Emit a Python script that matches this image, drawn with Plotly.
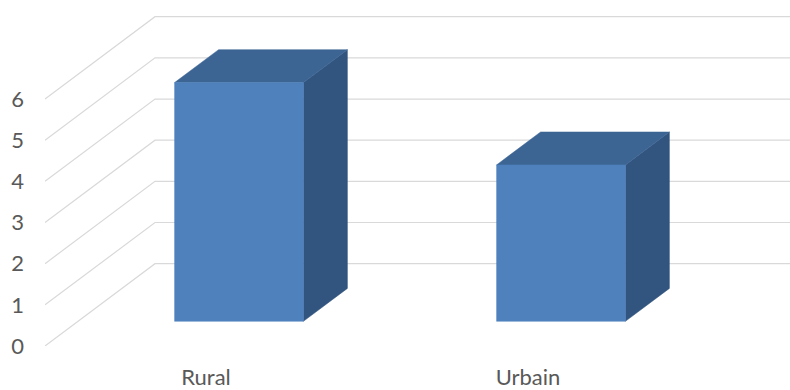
import plotly.graph_objects as go

# Data
categories = ["Rural", "Urbain"]
values = [5.8, 3.8]
y_ticks = [0, 1, 2, 3, 4, 5, 6]

# Oblique 3D projection: a point (x, y, depth) with depth in [0, 1]
# is drawn at (x + depth * DEPTH_X, y + depth * DEPTH_Y) in axis units.
DEPTH_X = 110 / 322        # horizontal shift of the back wall, in category units
DEPTH_Y = 2.0              # vertical shift of the back wall, in value units
BAR_HALF_W = 0.2           # half width of a column, in category units
BAR_D0, BAR_D1 = 0.3, 0.7  # front / back depth of a column

GRID = "#D9D9D9"
FRONT = "#4F81BD"
TOP = "#3D6594"
SIDE = "#32557F"
TEXT = "#595959"


def proj(x, y, d):
    return x + d * DEPTH_X, y + d * DEPTH_Y


fig = go.Figure()

# Wall gridlines: diagonal on the side wall, then horizontal across the back wall
x_left = -0.5
x_right = len(categories) - 0.5 + DEPTH_X + 0.2
for v in y_ticks:
    fx, fy = proj(x_left, v, 0)
    bx, by = proj(x_left, v, 1)
    fig.add_trace(go.Scatter(
        x=[fx, bx, x_right], y=[fy, by, by], mode="lines",
        line=dict(color=GRID, width=1.2), hoverinfo="skip", showlegend=False))


def face(points, color):
    xs = [p[0] for p in points] + [points[0][0]]
    ys = [p[1] for p in points] + [points[0][1]]
    fig.add_trace(go.Scatter(
        x=xs, y=ys, mode="lines", fill="toself", fillcolor=color,
        line=dict(color=color, width=0.5), hoverinfo="skip", showlegend=False))


# Columns: front face, top face and right side face
for i, v in enumerate(values):
    x0, x1 = i - BAR_HALF_W, i + BAR_HALF_W
    front = [proj(x0, 0, BAR_D0), proj(x1, 0, BAR_D0),
             proj(x1, v, BAR_D0), proj(x0, v, BAR_D0)]
    top = [proj(x0, v, BAR_D0), proj(x1, v, BAR_D0),
           proj(x1, v, BAR_D1), proj(x0, v, BAR_D1)]
    side = [proj(x1, 0, BAR_D0), proj(x1, 0, BAR_D1),
            proj(x1, v, BAR_D1), proj(x1, v, BAR_D0)]
    face(side, SIDE)
    face(top, TOP)
    face(front, FRONT)

font = dict(family="Lato, Calibri, sans-serif", size=22, color=TEXT)

fig.update_layout(
    width=790, height=390,
    margin=dict(l=45, r=0, t=3, b=37),
    paper_bgcolor="white", plot_bgcolor="white",
    showlegend=False,
    xaxis=dict(
        range=[-0.5, -0.5 + 745 / 322],
        tickmode="array", tickvals=list(range(len(categories))),
        ticktext=categories, tickfont=font,
        showgrid=False, zeroline=False, showline=False, ticks="",
        ticklabelstandoff=16, fixedrange=True),
    yaxis=dict(
        range=[0, 350 / 42],
        tickmode="array", tickvals=y_ticks,
        ticktext=[str(t) for t in y_ticks], tickfont=font,
        showgrid=False, zeroline=False, showline=False, ticks="",
        ticklabelstandoff=20, fixedrange=True),
)

fig.write_html("out.html")
